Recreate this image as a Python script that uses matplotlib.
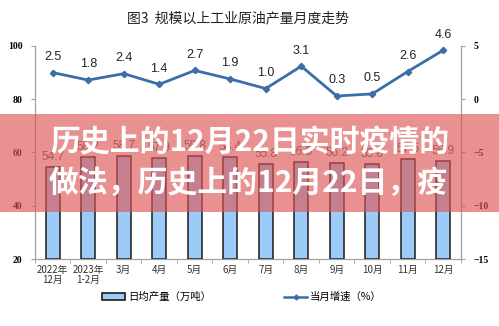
import matplotlib
matplotlib.use('Agg')
import matplotlib.pyplot as plt
from matplotlib.patches import Patch, Rectangle
from matplotlib.lines import Line2D

plt.rcParams['font.family'] = ['Noto Sans CJK SC', 'DejaVu Sans']

months = ['2022年\n12月', '2023年\n1-2月', '3月', '4月', '5月', '6月',
          '7月', '8月', '9月', '10月', '11月', '12月']
daily_output = [54.7, 58.2, 58.7, 57.9, 58.8, 58.4, 55.8, 56.5, 56.2, 55.8, 57.5, 56.9]
growth = [2.5, 1.8, 2.4, 1.4, 2.7, 1.9, 1.0, 3.1, 0.3, 0.5, 2.6, 4.6]

title = '图3  规模以上工业原油产量月度走势'
banner_lines = ['历史上的12月22日实时疫情的', '做法，历史上的12月22日，疫']

bar_color = '#9ccbf7'
line_color = '#3b6ea8'
axis_gray = '#a0a0a0'

fig = plt.figure(figsize=(4.99, 3.26), dpi=100)
ax = fig.add_axes([0.0701, 0.2055, 0.8537, 0.6535])
ax2 = ax.twinx()

x = list(range(len(months)))
ax.bar(x, [v - 20 for v in daily_output], bottom=20, width=0.4,
       color=bar_color, edgecolor='#1a1a1a', linewidth=1.1, zorder=2)
for i, v in enumerate(daily_output):
    ax.text(i, v + 1.5, f'{v:.1f}', ha='center', va='bottom', fontsize=8.5,
            color='#555555', family=['Liberation Sans', 'DejaVu Sans'])

ax2.plot(x, growth, color=line_color, lw=2, marker='D', markersize=3.2, zorder=3)
for i, v in enumerate(growth):
    ax2.text(i, v + 0.9, f'{v:.1f}', ha='center', va='bottom', fontsize=9,
             color='#222222', family=['Liberation Sans', 'DejaVu Sans'])

ax.set_xlim(-0.5, 11.5)
ax.set_ylim(20, 100)
ax2.set_ylim(-15, 5)
ax.set_yticks([20, 40, 60, 80, 100])
ax2.set_yticks([-15, -10, -5, 0, 5])

ax.set_xticks(x)
ax.set_xticklabels(months, fontsize=7, color='#333333', linespacing=1.1)
ax.set_xticks([i + 0.5 for i in range(-1, 12)], minor=True)
ax.tick_params(axis='x', which='major', length=0, pad=4)
ax.tick_params(axis='x', which='minor', length=3, color=axis_gray)

for a in (ax, ax2):
    a.spines['top'].set_visible(False)
    for s in ('left', 'right', 'bottom'):
        a.spines[s].set_color(axis_gray)
ax.tick_params(axis='y', length=3, color=axis_gray, labelsize=7, pad=6)
ax2.tick_params(axis='y', length=3, color=axis_gray, labelsize=7, pad=6)
for lab in ax.get_yticklabels() + ax2.get_yticklabels():
    lab.set_family(['Liberation Serif', 'DejaVu Serif'])
    lab.set_fontweight('bold')

fig.text(0.477, 0.945, title, ha='center', va='center', fontsize=10, color='#222222')

handles = [Patch(facecolor=bar_color, edgecolor='#1a1a1a', linewidth=1.2),
           Line2D([0], [0], color=line_color, lw=1.8, marker='D', markersize=2.5)]
fig.legend(handles, ['日均产量（万吨）', '当月增速（%）'], loc='center',
           bbox_to_anchor=(0.485, 0.089), ncol=2, frameon=False, fontsize=7.5,
           columnspacing=7, handlelength=2.2, handletextpad=0.3)

# semi-transparent banner with headline
fig.patches.append(Rectangle((0, 0.35), 1, 0.30, transform=fig.transFigure,
                             facecolor='#de5656', alpha=0.65, zorder=10))
fig.text(0.50, 0.564, banner_lines[0], ha='center', va='center', fontsize=21.5,
         fontweight='bold', color='white', zorder=11)
fig.text(0.497, 0.439, banner_lines[1], ha='center', va='center', fontsize=21.5,
         fontweight='bold', color='white', zorder=11)

fig.savefig('out.png', dpi=100)
